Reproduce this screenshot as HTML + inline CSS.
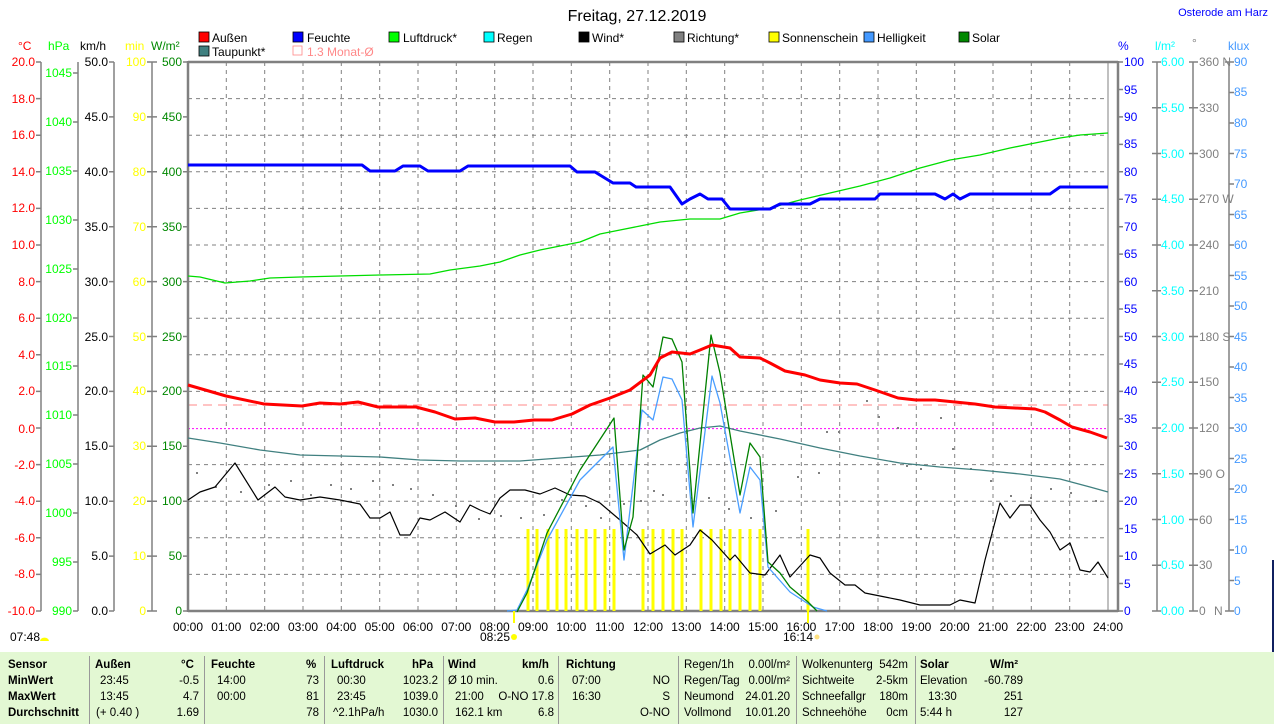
<!DOCTYPE html>
<html><head><meta charset="utf-8"><style>
body{margin:0;background:#fff;width:1274px;height:724px;overflow:hidden;font-family:"Liberation Sans",sans-serif}
svg{position:absolute;left:0;top:0}
text{font-family:"Liberation Sans",sans-serif;font-size:12px}
.r{text-anchor:end}.m{text-anchor:middle}
.tb{position:absolute;left:0;top:652px;width:1274px;height:72px;background:#e3f8d3;font-size:11.5px}
.tb div{position:absolute;white-space:nowrap}
.b{font-weight:bold}
.sep{position:absolute;top:4px;height:68px;width:1px;background:#999}
</style></head><body>
<svg width="1274" height="724" viewBox="0 0 1274 724">
<text x="637" y="21" class="m" style="font-size:16px">Freitag, 27.12.2019</text>
<text x="1268" y="16" class="r" style="font-size:11px;fill:#0000ff">Osterode am Harz</text>
<!-- legend -->
<g style="font-size:11.5px" stroke="#000" stroke-width="0.8">
<rect x="199" y="32" width="10" height="10" fill="#f00"/><text x="212" y="42" stroke="none">Außen</text>
<rect x="199" y="46" width="10" height="10" fill="#408080"/><text x="212" y="56" stroke="none">Taupunkt*</text>
<rect x="293" y="32" width="10" height="10" fill="#00f"/><text x="307" y="42" stroke="none">Feuchte</text>
<rect x="293" y="46" width="9" height="9" fill="none" stroke="#f88"/><text x="307" y="56" stroke="none" fill="#f88">1.3 Monat-Ø</text>
<rect x="389" y="32" width="10" height="10" fill="#0f0"/><text x="403" y="42" stroke="none">Luftdruck*</text>
<rect x="484" y="32" width="10" height="10" fill="#0ff"/><text x="497" y="42" stroke="none">Regen</text>
<rect x="579" y="32" width="10" height="10" fill="#000"/><text x="592" y="42" stroke="none">Wind*</text>
<rect x="674" y="32" width="10" height="10" fill="#808080"/><text x="687" y="42" stroke="none">Richtung*</text>
<rect x="769" y="32" width="10" height="10" fill="#ff0"/><text x="782" y="42" stroke="none">Sonnenschein</text>
<rect x="864" y="32" width="10" height="10" fill="#49f"/><text x="877" y="42" stroke="none">Helligkeit</text>
<rect x="959" y="32" width="10" height="10" fill="#080"/><text x="972" y="42" stroke="none">Solar</text>
</g>
<!-- unit headers -->
<text x="18" y="50" fill="#f00">°C</text><text x="48" y="50" fill="#0f0">hPa</text><text x="80" y="50">km/h</text>
<text x="125" y="50" fill="#ff0">min</text><text x="151" y="50" fill="#080">W/m²</text>
<text x="1118" y="50" fill="#00f">%</text><text x="1155" y="50" fill="#0ff">l/m²</text><text x="1192" y="47" fill="#808080">°</text><text x="1228" y="50" fill="#49f">klux</text>
<!-- grid -->
<g stroke="#808080" stroke-dasharray="4,4" stroke-width="1">
<path d="M188 98.6H1108M188 135.2H1108M188 171.8H1108M188 208.4H1108M188 245H1108M188 281.6H1108M188 318.2H1108M188 354.8H1108M188 391.4H1108M188 464.6H1108M188 501.2H1108M188 537.8H1108M188 574.4H1108"/>
<path d="M226.3 62V611M264.7 62V611M303 62V611M341.3 62V611M379.7 62V611M418 62V611M456.3 62V611M494.7 62V611M533 62V611M571.3 62V611M609.7 62V611M648 62V611M686.3 62V611M724.7 62V611M763 62V611M801.3 62V611M839.7 62V611M878 62V611M916.3 62V611M954.7 62V611M993 62V611M1031.3 62V611M1069.7 62V611"/>
</g>
<path d="M188 428.6H1108" stroke="#f0f" stroke-dasharray="2,2"/>
<path d="M188 405H1108" stroke="#f88" stroke-dasharray="9,6"/>
<path d="M1108 62V611" stroke="#808080"/>
<path d="M188 62H1118M188 611H1118M188 61V612M1118 61V612" stroke="#808080" stroke-width="2.5" fill="none"/>
<!-- axes left -->
<g stroke="#808080" stroke-width="1.5" fill="none">
<path d="M41 62V611M78 62V611M114 62V611M152 62V611M1157 62V611M1193 62V611M1229 62V611"/>
<path d="M36 62H41M36 98.6H41M36 135.2H41M36 171.8H41M36 208.4H41M36 245H41M36 281.6H41M36 318.2H41M36 354.8H41M36 391.4H41M36 428H41M36 464.6H41M36 501.2H41M36 537.8H41M36 574.4H41M36 611H41"/>
<path d="M73 73H78M73 122H78M73 171H78M73 220H78M73 269H78M73 318H78M73 366H78M73 415H78M73 464H78M73 513H78M73 562H78M73 611H78"/>
<path d="M109 62H114M109 116.9H114M109 171.8H114M109 226.7H114M109 281.6H114M109 336.5H114M109 391.4H114M109 446.3H114M109 501.2H114M109 556.1H114M109 611H114"/>
<path d="M147 62H157M147 116.9H157M147 171.8H157M147 226.7H157M147 281.6H157M147 336.5H157M147 391.4H157M147 446.3H157M147 501.2H157M147 556.1H157M147 611H157"/>
<path d="M183 62H188M183 116.9H188M183 171.8H188M183 226.7H188M183 281.6H188M183 336.5H188M183 391.4H188M183 446.3H188M183 501.2H188M183 556.1H188M183 611H188"/>
<path d="M1118 62H1123M1118 89.45H1123M1118 116.9H1123M1118 144.35H1123M1118 171.8H1123M1118 199.25H1123M1118 226.7H1123M1118 254.15H1123M1118 281.6H1123M1118 309.05H1123M1118 336.5H1123M1118 363.95H1123M1118 391.4H1123M1118 418.85H1123M1118 446.3H1123M1118 473.75H1123M1118 501.2H1123M1118 528.65H1123M1118 556.1H1123M1118 583.55H1123M1118 611H1123"/>
<path d="M1152 62H1161M1152 107.75H1161M1152 153.5H1161M1152 199.25H1161M1152 245H1161M1152 290.75H1161M1152 336.5H1161M1152 382.25H1161M1152 428H1161M1152 473.75H1161M1152 519.5H1161M1152 565.25H1161M1152 611H1161"/>
<path d="M1189 62H1198M1189 107.75H1198M1189 153.5H1198M1189 199.25H1198M1189 245H1198M1189 290.75H1198M1189 336.5H1198M1189 382.25H1198M1189 428H1198M1189 473.75H1198M1189 519.5H1198M1189 565.25H1198M1189 611H1198"/>
<path d="M1225 62H1234M1229 92.5H1234M1229 123H1234M1229 153.5H1234M1229 184H1234M1229 214.5H1234M1229 245H1234M1229 275.5H1234M1229 306H1234M1229 336.5H1234M1229 367H1234M1229 397.5H1234M1229 428H1234M1229 458.5H1234M1229 489H1234M1229 519.5H1234M1229 550H1234M1229 580.5H1234M1225 611H1234"/>
</g>
<g class="r" fill="#f00" text-anchor="end">
<text x="35" y="66">20.0</text><text x="35" y="103">18.0</text><text x="35" y="139">16.0</text><text x="35" y="176">14.0</text><text x="35" y="212">12.0</text><text x="35" y="249">10.0</text><text x="35" y="286">8.0</text><text x="35" y="322">6.0</text><text x="35" y="359">4.0</text><text x="35" y="395">2.0</text><text x="35" y="433">0.0</text><text x="35" y="469">-2.0</text><text x="35" y="505">-4.0</text><text x="35" y="542">-6.0</text><text x="35" y="578">-8.0</text><text x="35" y="615">-10.0</text>
</g>
<g fill="#0f0" text-anchor="end">
<text x="72" y="77">1045</text><text x="72" y="126">1040</text><text x="72" y="175">1035</text><text x="72" y="224">1030</text><text x="72" y="273">1025</text><text x="72" y="322">1020</text><text x="72" y="370">1015</text><text x="72" y="419">1010</text><text x="72" y="468">1005</text><text x="72" y="517">1000</text><text x="72" y="566">995</text><text x="72" y="615">990</text>
</g>
<g fill="#000" text-anchor="end">
<text x="108" y="66">50.0</text><text x="108" y="121">45.0</text><text x="108" y="176">40.0</text><text x="108" y="231">35.0</text><text x="108" y="286">30.0</text><text x="108" y="341">25.0</text><text x="108" y="395">20.0</text><text x="108" y="450">15.0</text><text x="108" y="505">10.0</text><text x="108" y="560">5.0</text><text x="108" y="615">0.0</text>
</g>
<g fill="#ff0" text-anchor="end">
<text x="146" y="66">100</text><text x="146" y="121">90</text><text x="146" y="176">80</text><text x="146" y="231">70</text><text x="146" y="286">60</text><text x="146" y="341">50</text><text x="146" y="395">40</text><text x="146" y="450">30</text><text x="146" y="505">20</text><text x="146" y="560">10</text><text x="146" y="615">0</text>
</g>
<g fill="#080" text-anchor="end">
<text x="182" y="66">500</text><text x="182" y="121">450</text><text x="182" y="176">400</text><text x="182" y="231">350</text><text x="182" y="286">300</text><text x="182" y="341">250</text><text x="182" y="395">200</text><text x="182" y="450">150</text><text x="182" y="505">100</text><text x="182" y="560">50</text><text x="182" y="615">0</text>
</g>
<g fill="#00f">
<text x="1124" y="66">100</text><text x="1124" y="94">95</text><text x="1124" y="121">90</text><text x="1124" y="148">85</text><text x="1124" y="176">80</text><text x="1124" y="203">75</text><text x="1124" y="231">70</text><text x="1124" y="258">65</text><text x="1124" y="286">60</text><text x="1124" y="313">55</text><text x="1124" y="341">50</text><text x="1124" y="368">45</text><text x="1124" y="395">40</text><text x="1124" y="423">35</text><text x="1124" y="450">30</text><text x="1124" y="478">25</text><text x="1124" y="505">20</text><text x="1124" y="533">15</text><text x="1124" y="560">10</text><text x="1124" y="588">5</text><text x="1124" y="615">0</text>
</g>
<g fill="#0ff">
<text x="1161" y="66">6.00</text><text x="1161" y="112">5.50</text><text x="1161" y="158">5.00</text><text x="1161" y="203">4.50</text><text x="1161" y="249">4.00</text><text x="1161" y="295">3.50</text><text x="1161" y="341">3.00</text><text x="1161" y="386">2.50</text><text x="1161" y="432">2.00</text><text x="1161" y="478">1.50</text><text x="1161" y="524">1.00</text><text x="1161" y="569">0.50</text><text x="1161" y="615">0.00</text>
</g>
<g fill="#808080">
<text x="1199" y="66">360 N</text><text x="1199" y="112">330</text><text x="1199" y="158">300</text><text x="1199" y="203">270 W</text><text x="1199" y="249">240</text><text x="1199" y="295">210</text><text x="1199" y="341">180 S</text><text x="1199" y="386">150</text><text x="1199" y="432">120</text><text x="1199" y="478">90 O</text><text x="1199" y="524">60</text><text x="1199" y="569">30</text><text x="1199" y="615">0</text><text x="1214" y="615">N</text>
</g>
<g fill="#49f">
<text x="1234" y="66">90</text><text x="1234" y="96">85</text><text x="1234" y="127">80</text><text x="1234" y="158">75</text><text x="1234" y="188">70</text><text x="1234" y="219">65</text><text x="1234" y="249">60</text><text x="1234" y="280">55</text><text x="1234" y="310">50</text><text x="1234" y="341">45</text><text x="1234" y="371">40</text><text x="1234" y="402">35</text><text x="1234" y="432">30</text><text x="1234" y="463">25</text><text x="1234" y="493">20</text><text x="1234" y="524">15</text><text x="1234" y="554">10</text><text x="1234" y="585">5</text><text x="1234" y="615">0</text>
</g>
<!-- x labels -->
<g text-anchor="middle">
<text x="188" y="631">00:00</text><text x="226.3" y="631">01:00</text><text x="264.7" y="631">02:00</text><text x="303" y="631">03:00</text><text x="341.3" y="631">04:00</text><text x="379.7" y="631">05:00</text><text x="418" y="631">06:00</text><text x="456.3" y="631">07:00</text><text x="494.7" y="631">08:00</text><text x="533" y="631">09:00</text><text x="571.3" y="631">10:00</text><text x="609.7" y="631">11:00</text><text x="648" y="631">12:00</text><text x="686.3" y="631">13:00</text><text x="724.7" y="631">14:00</text><text x="763" y="631">15:00</text><text x="801.3" y="631">16:00</text><text x="839.7" y="631">17:00</text><text x="878" y="631">18:00</text><text x="916.3" y="631">19:00</text><text x="954.7" y="631">20:00</text><text x="993" y="631">21:00</text><text x="1031.3" y="631">22:00</text><text x="1069.7" y="631">23:00</text><text x="1108" y="631">24:00</text>
</g>
<text x="10" y="641">07:48</text><path d="M40 641a4 3 0 0 1 9 0z" fill="#ff0"/>
<text x="480" y="641">08:25</text><circle cx="514" cy="637" r="3" fill="#ff0"/>
<text x="783" y="641">16:14</text><circle cx="817" cy="637" r="2.5" fill="#ffe080"/>
<path d="M514 611V623M808 611V623" stroke="#ff0" stroke-width="2"/>
<!-- sunshine bars -->
<path d="M528 529V611M537 529V611M548 529V611M557 529V611M566 529V611M577 529V611M586 529V611M595 529V611M605 529V611M614 529V611M643 529V611M653 529V611M663 529V611M673 529V611M682 529V611M701 529V611M711 529V611M721 529V611M730 529V611M740 529V611M750 529V611M760 529V611M808 529V611" stroke="#ff0" stroke-width="3"/>
<!-- direction dots -->
<g fill="#808080">
<rect x="196" y="472" width="2" height="2"/><rect x="215" y="486" width="2" height="2"/><rect x="240" y="491" width="2" height="2"/><rect x="268" y="484" width="2" height="2"/><rect x="290" y="480" width="2" height="2"/><rect x="310" y="494" width="2" height="2"/><rect x="330" y="484" width="2" height="2"/><rect x="350" y="488" width="2" height="2"/><rect x="372" y="480" width="2" height="2"/><rect x="392" y="484" width="2" height="2"/><rect x="410" y="488" width="2" height="2"/><rect x="432" y="494" width="2" height="2"/><rect x="455" y="505" width="2" height="2"/><rect x="478" y="518" width="2" height="2"/><rect x="500" y="515" width="2" height="2"/><rect x="520" y="517" width="2" height="2"/><rect x="543" y="514" width="2" height="2"/><rect x="561" y="499" width="2" height="2"/><rect x="585" y="505" width="2" height="2"/><rect x="600" y="517" width="2" height="2"/><rect x="623" y="503" width="2" height="2"/><rect x="640" y="500" width="2" height="2"/><rect x="653" y="490" width="2" height="2"/><rect x="662" y="494" width="2" height="2"/><rect x="690" y="497" width="2" height="2"/><rect x="708" y="497" width="2" height="2"/><rect x="728" y="508" width="2" height="2"/><rect x="750" y="517" width="2" height="2"/><rect x="775" y="510" width="2" height="2"/><rect x="797" y="476" width="2" height="2"/><rect x="818" y="472" width="2" height="2"/><rect x="826" y="431" width="2" height="2"/><rect x="838" y="431" width="2" height="2"/><rect x="866" y="400" width="2" height="2"/><rect x="878" y="416" width="2" height="2"/><rect x="897" y="427" width="2" height="2"/><rect x="906" y="465" width="2" height="2"/><rect x="920" y="468" width="2" height="2"/><rect x="940" y="417" width="2" height="2"/><rect x="952" y="448" width="2" height="2"/><rect x="970" y="468" width="2" height="2"/><rect x="990" y="480" width="2" height="2"/><rect x="1010" y="495" width="2" height="2"/><rect x="1030" y="497" width="2" height="2"/><rect x="1050" y="488" width="2" height="2"/><rect x="1070" y="492" width="2" height="2"/><rect x="1095" y="500" width="2" height="2"/>
</g>
<g fill="none" stroke-linejoin="round">
<polyline stroke="#408080" stroke-width="1.3" points="188,438 220,443 260,450 300,455 340,456 380,457 420,460 460,461 490,461 520,461 560,458 600,455 640,450 660,440 680,433 700,428 720,426 740,431 780,439 820,448 860,456 900,463 940,467 980,470 1020,474 1060,479 1090,487 1108,492"/>
<polyline stroke="#00dd00" stroke-width="1.3" points="188,276 200,277 225,283 250,281 270,278 300,277 340,276 380,275 430,274 450,270 480,266 500,262 520,255 540,250 560,246 580,242 600,234 620,230 640,226 660,222 690,219 720,219 740,213 770,208 800,200 830,193 860,186 890,178 920,168 950,160 980,155 1010,148 1040,142 1060,138 1080,135 1108,133"/>
<polyline stroke="#000" stroke-width="1.2" points="188,500 200,492 215,487 235,463 258,500 275,487 285,497 300,500 320,497 340,500 360,504 370,518 380,518 390,512 400,535 410,535 420,518 430,520 445,512 460,522 470,505 480,510 490,514 500,498 510,490 525,490 540,494 555,488 570,495 585,496 600,503 620,520 637,535 650,554 665,545 675,555 690,545 700,530 712,540 730,560 735,555 750,573 765,575 780,555 790,577 810,555 820,558 830,573 845,585 855,585 865,593 880,596 900,600 920,605 950,605 960,600 975,603 985,560 1000,503 1010,518 1020,505 1030,505 1040,520 1050,532 1060,550 1070,543 1080,570 1090,572 1098,562 1108,578"/>
<polyline stroke="#4a9eff" stroke-width="1.3" points="507,611 517,610 527,590 547,540 580,480 613,447 624,560 642,410 653,420 663,377 672,379 682,400 693,527 712,376 720,403 740,513 750,467 760,480 768,567 790,592 813,607 827,611"/>
<polyline stroke="#008000" stroke-width="1.3" points="517,612 527,593 547,533 580,470 614,418 624,550 633,517 643,375 653,387 663,337 672,339 682,362 693,513 711,335 720,373 740,495 750,443 760,457 768,562 780,573 790,587 808,602 817,611"/>
<polyline stroke="#0000ff" stroke-width="3" points="188,165 362,165 370,171 395,171 403,166 420,166 428,171 460,171 468,166 570,166 577,172 595,172 613,183 630,183 636,187 670,187 682,204 690,199 700,194 708,199 722,199 730,209 770,209 780,204 810,204 820,199 855,199 862,199 875,199 880,194 935,194 945,199 953,194 960,199 970,194 1050,194 1060,187 1108,187"/>
<polyline stroke="#ff0000" stroke-width="3" points="188,385 226,396 264,404 302,406 320,403 340,404 358,402 378,407 416,407 435,412 455,419 475,418 495,422 514,422 534,420 552,420 572,414 590,405 610,398 630,390 650,375 660,358 672,352 690,354 700,350 712,345 730,348 740,357 760,358 770,363 785,371 805,375 820,380 840,383 857,384 875,390 898,398 916,400 935,400 955,402 975,404 995,407 1015,408 1035,409 1045,412 1060,420 1072,427 1090,432 1107,438"/>
</g>
<rect x="1272" y="560" width="2" height="164" fill="#102060"/>
</svg>
<div class="tb">
<div class="sep" style="left:89px"></div><div class="sep" style="left:204px"></div><div class="sep" style="left:324px"></div><div class="sep" style="left:443px"></div><div class="sep" style="left:558px"></div><div class="sep" style="left:678px"></div><div class="sep" style="left:796px"></div><div class="sep" style="left:915px"></div>
<div class="b" style="left:8px;top:7px">Sensor</div><div class="b" style="left:8px;top:23px">MinWert</div><div class="b" style="left:8px;top:39px">MaxWert</div><div class="b" style="left:8px;top:55px">Durchschnitt</div>
<div class="b" style="left:95px;top:7px">Außen</div><div class="b" style="left:181px;top:7px">°C</div>
<div style="left:100px;top:23px">23:45</div><div style="left:100px;top:39px">13:45</div><div style="left:96px;top:55px">(+ 0.40 )</div>
<div style="right:1075px;top:23px">-0.5</div><div style="right:1075px;top:39px">4.7</div><div style="right:1075px;top:55px">1.69</div>
<div class="b" style="left:211px;top:7px">Feuchte</div><div class="b" style="left:306px;top:7px">%</div>
<div style="left:217px;top:23px">14:00</div><div style="left:217px;top:39px">00:00</div>
<div style="right:955px;top:23px">73</div><div style="right:955px;top:39px">81</div><div style="right:955px;top:55px">78</div>
<div class="b" style="left:331px;top:7px">Luftdruck</div><div class="b" style="left:412px;top:7px">hPa</div>
<div style="left:337px;top:23px">00:30</div><div style="left:337px;top:39px">23:45</div><div style="left:333px;top:55px">^2.1hPa/h</div>
<div style="right:836px;top:23px">1023.2</div><div style="right:836px;top:39px">1039.0</div><div style="right:836px;top:55px">1030.0</div>
<div class="b" style="left:448px;top:7px">Wind</div><div class="b" style="left:522px;top:7px">km/h</div>
<div style="left:448px;top:23px">Ø 10 min.</div><div style="left:455px;top:39px">21:00</div><div style="left:455px;top:55px">162.1 km</div>
<div style="right:720px;top:23px">0.6</div><div style="right:720px;top:39px">O-NO 17.8</div><div style="right:720px;top:55px">6.8</div>
<div class="b" style="left:566px;top:7px">Richtung</div>
<div style="left:572px;top:23px">07:00</div><div style="left:572px;top:39px">16:30</div>
<div style="right:604px;top:23px">NO</div><div style="right:604px;top:39px">S</div><div style="right:604px;top:55px">O-NO</div>
<div style="left:684px;top:7px">Regen/1h</div><div style="left:684px;top:23px">Regen/Tag</div><div style="left:684px;top:39px">Neumond</div><div style="left:684px;top:55px">Vollmond</div>
<div style="right:484px;top:7px">0.00l/m²</div><div style="right:484px;top:23px">0.00l/m²</div><div style="right:484px;top:39px">24.01.20</div><div style="right:484px;top:55px">10.01.20</div>
<div style="left:802px;top:7px">Wolkenunterg</div><div style="left:802px;top:23px">Sichtweite</div><div style="left:802px;top:39px">Schneefallgr</div><div style="left:802px;top:55px">Schneehöhe</div>
<div style="right:366px;top:7px">542m</div><div style="right:366px;top:23px">2-5km</div><div style="right:366px;top:39px">180m</div><div style="right:366px;top:55px">0cm</div>
<div class="b" style="left:920px;top:7px">Solar</div><div class="b" style="left:990px;top:7px">W/m²</div>
<div style="left:920px;top:23px">Elevation</div><div style="left:928px;top:39px">13:30</div><div style="left:920px;top:55px">5:44 h</div>
<div style="right:251px;top:23px">-60.789</div><div style="right:251px;top:39px">251</div><div style="right:251px;top:55px">127</div>
</div>
</body></html>
